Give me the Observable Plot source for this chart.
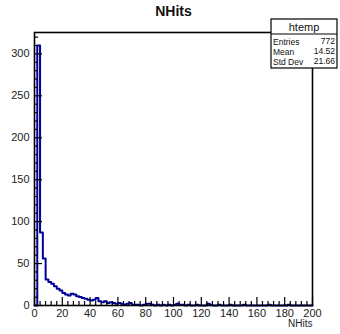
<!DOCTYPE html>
<html><head><meta charset="utf-8">
<script src="https://cdn.jsdelivr.net/npm/d3@7"></script>
<script src="https://cdn.jsdelivr.net/npm/@observablehq/plot@0.6"></script>
<style>body{margin:0;background:#fff;} svg{display:block;}</style>
</head><body><div id="chart"></div>
<script>
// ---- data ----
const binStarts = [0,2,4,6,8,10,12,14,16,18,20,22,24,26,28,30,32,34,36,38,40,42,44,46,48,50,52,54,56,58,60,62,64,66,68,70,72,74,78,80,82,84,88,92,96,100,102,104,106,110,116,124,126,132,140,150,168,182];
const binCounts = [0,310,87,56,31,28,26,23,20,18,15,13,12,14,13,11,10,9,8,7,6,7,9,5,4,5,3,4,3,2,3,2,1,2,3,1,1,1,1,2,2,1,1,1,1,1,2,1,1,1,1,2,1,1,1,1,1,1];
const binWidth = 2;
const xDomain = [0, 200];
const yMax = 325.5;
const yMajorTicks = [0,50,100,150,200,250,300];
const yMinorTicks = [10,20,30,40,60,70,80,90,110,120,130,140,160,170,180,190,210,220,230,240,260,270,280,290,310,320];
const xMajorTicks = [0,20,40,60,80,100,120,140,160,180,200];
const xMinorTicks = [4,8,12,16,24,28,32,36,44,48,52,56,64,68,72,76,84,88,92,96,104,108,112,116,124,128,132,136,144,148,152,156,164,168,172,176,184,188,192,196];
const titleText = "NHits";
const xTitle = "NHits";
const statsName = "htemp";
const statsLabels = ["Entries","Mean","Std Dev"];
const statsValues = ["772","14.52","21.66"];

// ---- layout ----
const W = 340, H = 334;
const mL = 34, mR = 28, mT = 32, mB = 29;
const plotW = W - mL - mR, plotH = H - mT - mB;
const font = "'Liberation Sans', Arial, Helvetica, sans-serif";

const countByStart = new Map(binStarts.map((s, i) => [s, binCounts[i]]));
const allStarts = d3.range(xDomain[0], xDomain[1], binWidth);
const outline = [{x: xDomain[0], y: 0}]
  .concat(allStarts.map(s => ({x: s, y: countByStart.get(s) ?? 0})))
  .concat([{x: xDomain[1], y: 0}]);

const svg = Plot.plot({
  width: W, height: H,
  marginLeft: mL, marginRight: mR, marginTop: mT, marginBottom: mB,
  style: {fontFamily: font, fontSize: "11px", background: "white", color: "black"},
  x: {domain: xDomain, axis: null},
  y: {domain: [0, yMax], axis: null},
  marks: [
    Plot.line(outline, {x: "x", y: "y", curve: "step-after", stroke: "#000099", strokeWidth: 2}),
    Plot.tickY(yMajorTicks, {y: d => d, insetRight: plotW - 8, stroke: "black", strokeWidth: 1.2}),
    Plot.tickY(yMinorTicks, {y: d => d, insetRight: plotW - 4, stroke: "black", strokeWidth: 1.2}),
    Plot.tickX(xMajorTicks, {x: d => d, insetTop: plotH - 8, stroke: "black", strokeWidth: 1.2}),
    Plot.tickX(xMinorTicks, {x: d => d, insetTop: plotH - 4, stroke: "black", strokeWidth: 1.2}),
    Plot.frame({stroke: "black", strokeWidth: 1.6}),
    Plot.axisY(yMajorTicks, {tickSize: 0, tickPadding: 5, fontSize: 11, fill: "#222", label: null}),
    Plot.axisX(xMajorTicks, {tickSize: 0, tickPadding: 4, fontSize: 11, fill: "#222", label: null}),
    Plot.text([xTitle], {frameAnchor: "bottom-right", textAnchor: "end", dy: 21, fontSize: 10, fill: "#222"}),
    Plot.text([titleText], {frameAnchor: "top", textAnchor: "middle", lineAnchor: "bottom", dy: -17, fontSize: 14, fontWeight: "bold", fill: "#111"})
  ]
});

// ---- stats box (annotation) ----
const g = d3.select(svg).append("g").attr("font-family", font).attr("text-anchor", "start");
const bx = 271, bw = 66, hy = 19, hh = 15, sy = hy + hh, sh = 34;
g.append("rect").attr("x", bx).attr("y", hy).attr("width", bw).attr("height", hh + sh)
  .attr("fill", "white").attr("stroke", "black").attr("stroke-width", 1.2);
g.append("line").attr("x1", bx).attr("x2", bx + bw).attr("y1", sy).attr("y2", sy)
  .attr("stroke", "black").attr("stroke-width", 1.2);
g.append("text").attr("x", bx + bw / 2).attr("y", hy + 11.5).attr("text-anchor", "middle")
  .attr("font-size", 11).attr("fill", "#111").text(statsName);
statsLabels.forEach((lab, i) => {
  const y = sy + 11 + i * 10;
  g.append("text").attr("x", bx + 2).attr("y", y).attr("text-anchor", "start")
    .attr("font-size", 8.5).attr("fill", "#111").text(lab);
  g.append("text").attr("x", bx + bw - 2).attr("y", y - 1).attr("text-anchor", "end")
    .attr("font-size", 8.5).attr("fill", "#111").text(statsValues[i]);
});

document.getElementById("chart").appendChild(svg);
</script>
</body></html>
